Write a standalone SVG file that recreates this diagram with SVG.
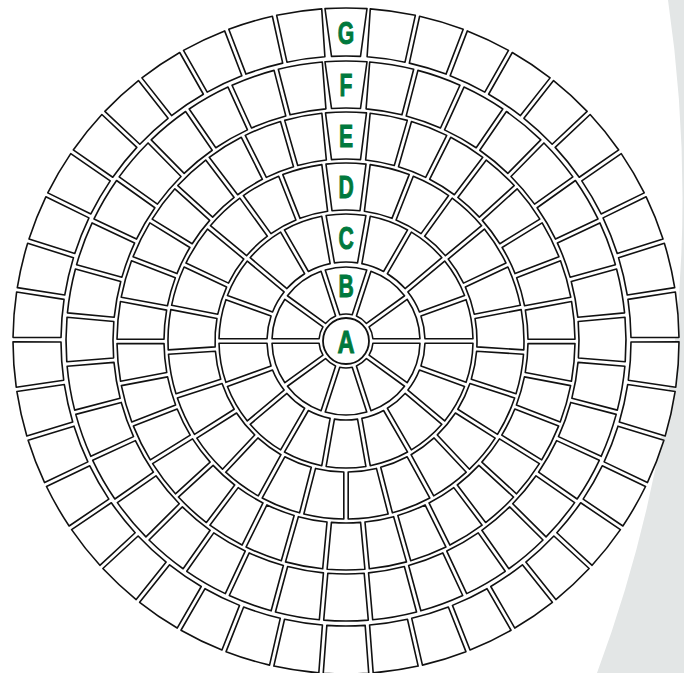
<svg xmlns="http://www.w3.org/2000/svg" width="684" height="673" viewBox="0 0 684 673">
<style>
.t{fill:#fff;stroke:#111;stroke-width:1.6;stroke-linejoin:round}
.lbl{font-family:"Liberation Sans",Arial,sans-serif;font-weight:bold;font-size:32px;fill:#00793d;stroke:#00793d;stroke-width:1;text-anchor:middle}
</style>
<defs>
<path id="tB" class="t" d="M -6.23 -26.27 L -20.77 -71.03 A 74 74 0 0 1 20.77 -71.03 L 6.23 -26.27 A 27 27 0 0 0 -6.23 -26.27 Z"/>
<path id="tC" class="t" d="M -11.55 -78.15 L -19.88 -125.43 A 127 127 0 0 1 19.88 -125.43 L 11.55 -78.15 A 79 79 0 0 0 -11.55 -78.15 Z"/>
<path id="tD" class="t" d="M -14.24 -130.22 L -20.14 -176.86 A 178 178 0 0 1 20.14 -176.86 L 14.24 -130.22 A 131 131 0 0 0 -14.24 -130.22 Z"/>
<path id="tE" class="t" d="M -14.58 -181.42 L -18.91 -228.22 A 229 229 0 0 1 18.91 -228.22 L 14.58 -181.42 A 182 182 0 0 0 -14.58 -181.42 Z"/>
<path id="tF" class="t" d="M -18.18 -232.29 L -22.29 -279.11 A 280 280 0 0 1 22.29 -279.11 L 18.18 -232.29 A 233 233 0 0 0 -18.18 -232.29 Z"/>
<path id="tG" class="t" d="M -19.16 -284.36 L -22.76 -332.22 A 333 333 0 0 1 22.76 -332.22 L 19.16 -284.36 A 285 285 0 0 0 -19.16 -284.36 Z"/>
</defs>
<path id="background" d="M 668 0 A 1361.5 1361.5 0 0 1 597 673 L 684 673 L 684 0 Z" fill="#e3e6e6"/>
<g id="pattern" transform="translate(346 341)">
<g id="ringG">
<path class="t" d="M -14.5 -284.63 L -21 -332.34 A 333 333 0 0 1 21 -332.34 L 14.5 -284.63 A 285 285 0 0 0 -14.5 -284.63 Z"/>
<use href="#tG" transform="rotate(8.10)"/><use href="#tG" transform="rotate(16.69)"/><use href="#tG" transform="rotate(25.29)"/><use href="#tG" transform="rotate(33.88)"/><use href="#tG" transform="rotate(42.48)"/><use href="#tG" transform="rotate(51.07)"/><use href="#tG" transform="rotate(59.67)"/><use href="#tG" transform="rotate(68.26)"/><use href="#tG" transform="rotate(76.86)"/><use href="#tG" transform="rotate(85.45)"/>
<use href="#tG" transform="rotate(94.05)"/><use href="#tG" transform="rotate(102.64)"/><use href="#tG" transform="rotate(111.24)"/><use href="#tG" transform="rotate(119.83)"/><use href="#tG" transform="rotate(128.43)"/><use href="#tG" transform="rotate(137.02)"/><use href="#tG" transform="rotate(145.62)"/><use href="#tG" transform="rotate(154.21)"/><use href="#tG" transform="rotate(162.81)"/><use href="#tG" transform="rotate(171.40)"/>
<use href="#tG" transform="rotate(180)"/><use href="#tG" transform="rotate(188.60)"/><use href="#tG" transform="rotate(197.19)"/><use href="#tG" transform="rotate(205.79)"/><use href="#tG" transform="rotate(214.38)"/><use href="#tG" transform="rotate(222.98)"/><use href="#tG" transform="rotate(231.57)"/><use href="#tG" transform="rotate(240.17)"/><use href="#tG" transform="rotate(248.76)"/><use href="#tG" transform="rotate(257.36)"/>
<use href="#tG" transform="rotate(265.95)"/><use href="#tG" transform="rotate(274.55)"/><use href="#tG" transform="rotate(283.14)"/><use href="#tG" transform="rotate(291.74)"/><use href="#tG" transform="rotate(300.33)"/><use href="#tG" transform="rotate(308.93)"/><use href="#tG" transform="rotate(317.52)"/><use href="#tG" transform="rotate(326.12)"/><use href="#tG" transform="rotate(334.71)"/><use href="#tG" transform="rotate(343.31)"/><use href="#tG" transform="rotate(351.90)"/>
</g>
<g id="ringF">
<path class="t" d="M -14.5 -232.55 L -21 -279.21 A 280 280 0 0 1 21 -279.21 L 14.5 -232.55 A 233 233 0 0 0 -14.5 -232.55 Z"/>
<use href="#tF" transform="rotate(9.42)"/><use href="#tF" transform="rotate(19.45)"/><use href="#tF" transform="rotate(29.49)"/><use href="#tF" transform="rotate(39.52)"/><use href="#tF" transform="rotate(49.55)"/><use href="#tF" transform="rotate(59.59)"/><use href="#tF" transform="rotate(69.62)"/><use href="#tF" transform="rotate(79.66)"/><use href="#tF" transform="rotate(89.69)"/>
<use href="#tF" transform="rotate(99.73)"/><use href="#tF" transform="rotate(109.76)"/><use href="#tF" transform="rotate(119.79)"/><use href="#tF" transform="rotate(129.83)"/><use href="#tF" transform="rotate(139.86)"/><use href="#tF" transform="rotate(149.90)"/><use href="#tF" transform="rotate(159.93)"/><use href="#tF" transform="rotate(169.97)"/><use href="#tF" transform="rotate(180)"/>
<use href="#tF" transform="rotate(190.03)"/><use href="#tF" transform="rotate(200.07)"/><use href="#tF" transform="rotate(210.10)"/><use href="#tF" transform="rotate(220.14)"/><use href="#tF" transform="rotate(230.17)"/><use href="#tF" transform="rotate(240.21)"/><use href="#tF" transform="rotate(250.24)"/><use href="#tF" transform="rotate(260.27)"/><use href="#tF" transform="rotate(270.31)"/>
<use href="#tF" transform="rotate(280.34)"/><use href="#tF" transform="rotate(290.38)"/><use href="#tF" transform="rotate(300.41)"/><use href="#tF" transform="rotate(310.45)"/><use href="#tF" transform="rotate(320.48)"/><use href="#tF" transform="rotate(330.51)"/><use href="#tF" transform="rotate(340.55)"/><use href="#tF" transform="rotate(350.58)"/>
</g>
<g id="ringE">
<path class="t" d="M -14.5 -181.42 L -20.5 -228.08 A 229 229 0 0 1 20.5 -228.08 L 14.5 -181.42 A 182 182 0 0 0 -14.5 -181.42 Z"/>
<use href="#tE" transform="rotate(10.79)"/><use href="#tE" transform="rotate(21.36)"/><use href="#tE" transform="rotate(31.94)"/><use href="#tE" transform="rotate(42.52)"/><use href="#tE" transform="rotate(53.09)"/><use href="#tE" transform="rotate(63.67)"/><use href="#tE" transform="rotate(74.24)"/><use href="#tE" transform="rotate(84.82)"/>
<use href="#tE" transform="rotate(95.39)"/><use href="#tE" transform="rotate(105.97)"/><use href="#tE" transform="rotate(116.55)"/><use href="#tE" transform="rotate(127.12)"/><use href="#tE" transform="rotate(137.70)"/><use href="#tE" transform="rotate(148.27)"/><use href="#tE" transform="rotate(158.85)"/><use href="#tE" transform="rotate(169.42)"/><use href="#tE" transform="rotate(180)"/>
<use href="#tE" transform="rotate(190.58)"/><use href="#tE" transform="rotate(201.15)"/><use href="#tE" transform="rotate(211.73)"/><use href="#tE" transform="rotate(222.30)"/><use href="#tE" transform="rotate(232.88)"/><use href="#tE" transform="rotate(243.45)"/><use href="#tE" transform="rotate(254.03)"/><use href="#tE" transform="rotate(264.61)"/>
<use href="#tE" transform="rotate(275.18)"/><use href="#tE" transform="rotate(285.76)"/><use href="#tE" transform="rotate(296.33)"/><use href="#tE" transform="rotate(306.91)"/><use href="#tE" transform="rotate(317.48)"/><use href="#tE" transform="rotate(328.06)"/><use href="#tE" transform="rotate(338.64)"/><use href="#tE" transform="rotate(349.21)"/>
</g>
<g id="ringD">
<path class="t" d="M -14 -130.25 L -20 -176.87 A 178 178 0 0 1 20 -176.87 L 14 -130.25 A 131 131 0 0 0 -14 -130.25 Z"/>
<use href="#tD" transform="rotate(14.30)"/><use href="#tD" transform="rotate(28.71)"/><use href="#tD" transform="rotate(43.12)"/><use href="#tD" transform="rotate(57.53)"/><use href="#tD" transform="rotate(71.94)"/><use href="#tD" transform="rotate(86.35)"/>
<use href="#tD" transform="rotate(100.75)"/><use href="#tD" transform="rotate(115.16)"/><use href="#tD" transform="rotate(129.57)"/><use href="#tD" transform="rotate(143.98)"/><use href="#tD" transform="rotate(158.39)"/><use href="#tD" transform="rotate(172.80)"/>
<use href="#tD" transform="rotate(187.20)"/><use href="#tD" transform="rotate(201.61)"/><use href="#tD" transform="rotate(216.02)"/><use href="#tD" transform="rotate(230.43)"/><use href="#tD" transform="rotate(244.84)"/><use href="#tD" transform="rotate(259.25)"/>
<use href="#tD" transform="rotate(273.65)"/><use href="#tD" transform="rotate(288.06)"/><use href="#tD" transform="rotate(302.47)"/><use href="#tD" transform="rotate(316.88)"/><use href="#tD" transform="rotate(331.29)"/><use href="#tD" transform="rotate(345.70)"/>
</g>
<g id="ringC">
<use href="#tC"/><use href="#tC" transform="rotate(20)"/><use href="#tC" transform="rotate(40)"/><use href="#tC" transform="rotate(60)"/><use href="#tC" transform="rotate(80)"/><use href="#tC" transform="rotate(100)"/><use href="#tC" transform="rotate(120)"/><use href="#tC" transform="rotate(140)"/><use href="#tC" transform="rotate(160)"/>
<use href="#tC" transform="rotate(180)"/><use href="#tC" transform="rotate(200)"/><use href="#tC" transform="rotate(220)"/><use href="#tC" transform="rotate(240)"/><use href="#tC" transform="rotate(260)"/><use href="#tC" transform="rotate(280)"/><use href="#tC" transform="rotate(300)"/><use href="#tC" transform="rotate(320)"/><use href="#tC" transform="rotate(340)"/>
</g>
<g id="ringB">
<use href="#tB"/><use href="#tB" transform="rotate(36)"/><use href="#tB" transform="rotate(72)"/><use href="#tB" transform="rotate(108)"/><use href="#tB" transform="rotate(144)"/><use href="#tB" transform="rotate(180)"/><use href="#tB" transform="rotate(216)"/><use href="#tB" transform="rotate(252)"/><use href="#tB" transform="rotate(288)"/><use href="#tB" transform="rotate(324)"/>
</g>
<g id="centerA">
<circle class="t" cx="0" cy="0" r="23" style="stroke-width:1.8"/>
</g>
</g>
<g id="labels">
<text class="lbl" transform="translate(346 353) scale(0.74 1)">A</text>
<text class="lbl" transform="translate(346 297) scale(0.66 1)">B</text>
<text class="lbl" transform="translate(346 249) scale(0.66 1)">C</text>
<text class="lbl" transform="translate(346 198) scale(0.66 1)">D</text>
<text class="lbl" transform="translate(346 147) scale(0.66 1)">E</text>
<text class="lbl" transform="translate(346 96) scale(0.66 1)">F</text>
<text class="lbl" transform="translate(346 44) scale(0.66 1)">G</text>
</g>
</svg>
